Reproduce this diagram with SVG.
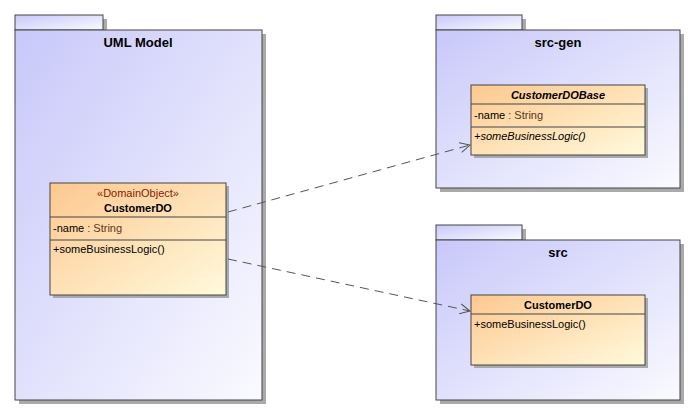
<svg xmlns="http://www.w3.org/2000/svg" width="695" height="415" viewBox="0 0 695 415">
<defs>
<linearGradient id="pk" x1="0" y1="0" x2="1" y2="1"><stop offset="0" stop-color="#c8c8fa"/><stop offset="1" stop-color="#fafaff"/></linearGradient>
<linearGradient id="cl" x1="0" y1="0" x2="1" y2="1"><stop offset="0" stop-color="#fdc890"/><stop offset="1" stop-color="#fffadc"/></linearGradient>
<marker id="ar" markerWidth="12" markerHeight="12" refX="11" refY="6" orient="auto" markerUnits="userSpaceOnUse"><path d="M1,1 L11,6 L1,11" fill="none" stroke="#555" stroke-width="1"/></marker>
</defs>
<style>
.pk{fill:url(#pk);stroke:#444;stroke-width:1}
.cl{fill:url(#cl);stroke:#444;stroke-width:1}
.sh{fill:#aaa}
.ln{stroke:#444;stroke-width:1}
text{font-family:"Liberation Sans",Arial,sans-serif;font-size:11px;fill:#000}
.t{font-weight:bold;font-size:13px}
.b{font-weight:bold}
.g{fill:#5a3a1a}
.s{fill:#8b1a00}
.c{stroke:#555;stroke-width:1;stroke-dasharray:9,6;fill:none}
</style>
<rect width="695" height="415" fill="#fff"/>
<g id="uml-model">
<rect class="sh" x="19" y="34" width="247" height="370"/><rect class="sh" x="19" y="19" width="88" height="15"/>
<rect class="pk" x="15" y="15" width="88" height="15"/><rect class="pk" x="15" y="30" width="247" height="370"/>
<text class="t" x="138" y="47" text-anchor="middle">UML Model</text>
</g>
<g id="src-gen">
<rect class="sh" x="440" y="19" width="86" height="15"/><rect class="sh" x="440" y="34" width="244" height="158"/>
<rect class="pk" x="436" y="15" width="86" height="15"/><rect class="pk" x="436" y="30" width="244" height="158"/>
<text class="t" x="558" y="47" text-anchor="middle">src-gen</text>
</g>
<g id="src">
<rect class="sh" x="440" y="229" width="86" height="15"/><rect class="sh" x="440" y="244" width="244" height="160"/>
<rect class="pk" x="436" y="225" width="86" height="15"/><rect class="pk" x="436" y="240" width="244" height="160"/>
<text class="t" x="558" y="257" text-anchor="middle">src</text>
</g>
<g id="customerdo-model">
<rect class="sh" x="53" y="186" width="176" height="112"/>
<rect class="cl" x="50" y="183" width="176" height="112"/>
<line class="ln" x1="50" y1="217" x2="226" y2="217"/><line class="ln" x1="50" y1="240" x2="226" y2="240"/>
<text x="138" y="197" text-anchor="middle" class="s">«DomainObject»</text>
<text x="138" y="212" text-anchor="middle" class="b">CustomerDO</text>
<text x="53" y="232">-name<tspan class="g"> : String</tspan></text>
<text x="53" y="253">+someBusinessLogic()</text>
</g>
<g id="customerdobase">
<rect class="sh" x="474" y="88" width="174" height="70"/>
<rect class="cl" x="471" y="85" width="174" height="70"/>
<line class="ln" x1="471" y1="104" x2="645" y2="104"/><line class="ln" x1="471" y1="127" x2="645" y2="127"/>
<text x="558" y="99" text-anchor="middle" class="b" font-style="italic">CustomerDOBase</text>
<text x="474" y="119">-name<tspan class="g"> : String</tspan></text>
<text x="474" y="140" font-style="italic">+someBusinessLogic()</text>
</g>
<g id="customerdo-src">
<rect class="sh" x="474" y="298" width="174" height="70"/>
<rect class="cl" x="471" y="295" width="174" height="70"/>
<line class="ln" x1="471" y1="314" x2="645" y2="314"/>
<text x="558" y="309" text-anchor="middle" class="b">CustomerDO</text>
<text x="474" y="328">+someBusinessLogic()</text>
</g>
<g id="connectors">
<path class="c" d="M228,212 L470,145" marker-end="url(#ar)"/>
<path class="c" d="M228,259 L470,311" marker-end="url(#ar)"/>
</g>
</svg>
